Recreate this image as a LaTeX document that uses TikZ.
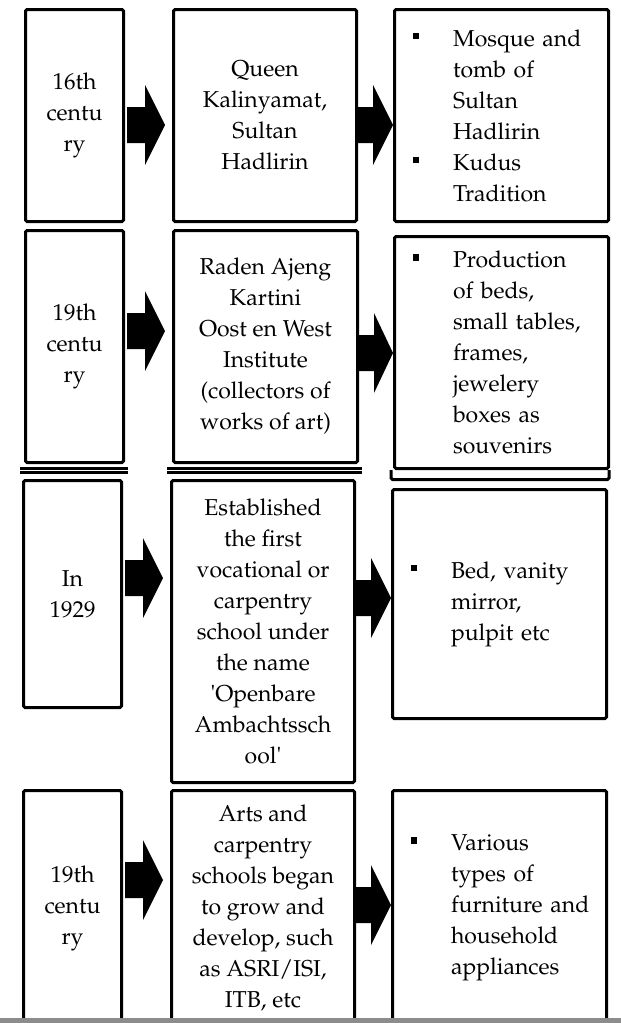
\documentclass[tikz,border=0pt]{standalone}
\usepackage[T1]{fontenc}
\usepackage{mathpazo}
\usetikzlibrary{calc}
\definecolor{barg}{HTML}{8C8C8C}
\newcommand\sqb{\makebox[40pt][l]{\rule[7pt]{5.5pt}{6.5pt}}}
\newcommand\ind{\hspace*{40pt}}
% block arrow: from node, to node, y, start gap, end gap, shaft length
\newcommand\blockarr[6]{%
  \fill let \p1=(#1.east), \p2=(#2.west) in
    (\x1+#4pt,-#3pt+18pt) -- (\x1+#4pt+#6pt,-#3pt+18pt) -- (\x1+#4pt+#6pt,-#3pt+40pt)
    -- (\x2-#5pt,-#3pt) -- (\x1+#4pt+#6pt,-#3pt-40pt) -- (\x1+#4pt+#6pt,-#3pt-18pt)
    -- (\x1+#4pt,-#3pt-18pt) -- cycle;}
\begin{document}
\begin{tikzpicture}[x=1pt,y=-1pt,
  font=\fontsize{23}{31}\selectfont,
  box/.style={draw, line width=3pt, rounded corners=1.5pt, align=center, inner sep=0pt},
  lst/.style={box, align=left, text width=177pt, inner xsep=18.5pt}]
\useasboundingbox (0,0) rectangle (621,1023);
\clip (0,0) rectangle (621,1023);

% Row 1
\node[box, minimum width=98pt, minimum height=212pt] (a1) at (74.5,115.5) {16th\\centu\\ry};
\node[box, minimum width=183pt, minimum height=212pt] (b1) at (265,115.5) {Queen\\Kalinyamat,\\Sultan\\Hadlirin};
\node[lst, minimum width=214pt, minimum height=212pt] (c1) at (501.5,115.5)
  {\sqb\mbox{Mosque and}\\\ind\mbox{tomb of}\\\ind Sultan\\\ind Hadlirin\\\sqb Kudus\\\ind Tradition};

% Row 2
\node[box, minimum width=98pt, minimum height=232pt] (a2) at (74.5,346.5) {19th\\centu\\ry};
\node[box, minimum width=184pt, minimum height=232pt] (b2) at (265.5,346.5) {Raden Ajeng\\Kartini\\Oost en West\\Institute\\(collectors of\\works of art)};
\node[lst, minimum width=214pt, minimum height=232pt] (c2) at (501.5,352.5)
  {\sqb Production\\\ind\mbox{of beds,}\\\ind\mbox{small tables,}\\\ind frames,\\\ind jewelery\\\ind\mbox{boxes as}\\\ind souvenirs};

% double lines under row 2
\draw[line width=3pt] (20,468.5) -- (128,468.5);
\draw[line width=3pt] (20,472) -- (128,472);
\draw[line width=3pt] (167,468.5) -- (362,468.5);
\draw[line width=3pt] (167,472) -- (362,472);
\draw[line width=3pt, rounded corners=1.5pt] (391,470) -- (391,479.5) -- (609,479.5) -- (609,470);

% Row 3
\node[box, minimum width=98pt, minimum height=227pt] (a3) at (72.5,594) {In\\1929};
\node[box, minimum width=183pt, minimum height=302pt] (b3) at (263,631.5) {Established\\the first\\vocational or\\carpentry\\school under\\the name\\\textquotesingle Openbare\\Ambachtssch\\ool\textquotesingle};
\node[lst, minimum width=214pt, minimum height=229pt] (c3) at (499.5,604)
  {\sqb\mbox{Bed, vanity}\\\ind mirror,\\\ind\mbox{pulpit etc}};

% Row 4
\node[box, minimum width=98pt, minimum height=235pt] (a4) at (72.5,908) {19th\\centu\\ry};
\node[box, minimum width=183pt, minimum height=235pt] (b4) at (263,908) {Arts and\\carpentry\\schools began\\to grow and\\develop, such\\as ASRI/ISI,\\ITB, etc};
\node[lst, minimum width=214pt, minimum height=235pt] (c4) at (499.5,908)
  {\sqb Various\\\ind\mbox{types of}\\\ind\mbox{furniture and}\\\ind household\\\ind appliances};

% block arrows
\blockarr{a1}{b1}{125}{2}{7}{18}
\blockarr{b1}{c1}{125}{0}{0}{15}
\blockarr{a2}{b2}{331}{2}{7}{18}
\blockarr{b2}{c2}{353}{0}{0}{15}
\blockarr{a3}{b3}{578}{2}{7}{18}
\blockarr{b3}{c3}{598}{0}{0}{15}
\blockarr{a4}{b4}{880}{2}{7}{18}
\blockarr{b4}{c4}{905}{0}{0}{15}

% bottom bar
\fill[barg] (0,1018) rectangle (621,1023);
\end{tikzpicture}
\end{document}
